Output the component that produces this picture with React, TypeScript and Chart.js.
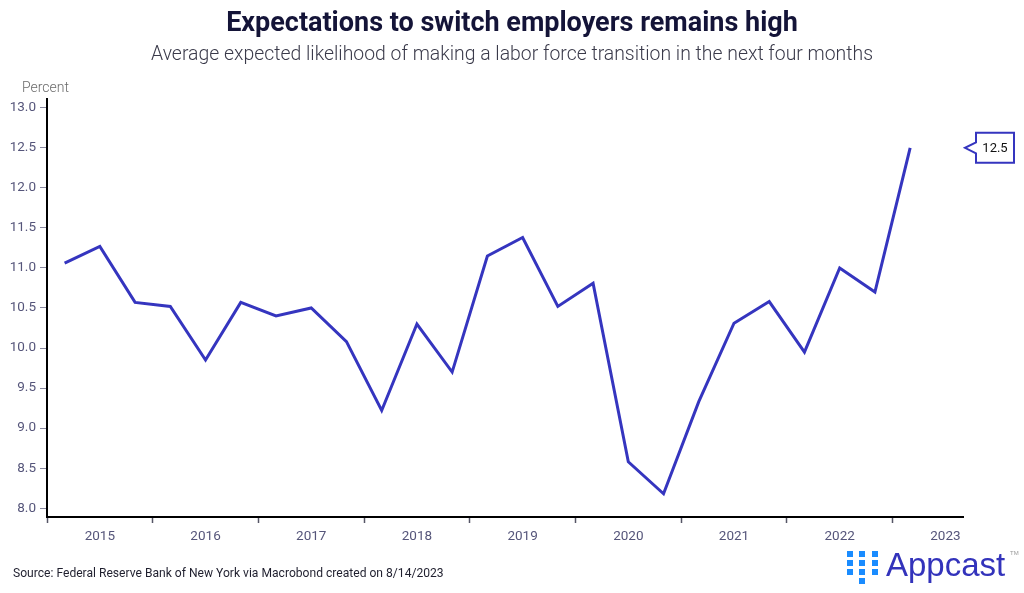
import React, { useEffect, useRef } from "react";
import { Chart, registerables } from "chart.js";

Chart.register(...registerables);

// ---- Data ----
const years = [2015, 2016, 2017, 2018, 2019, 2020, 2021, 2022, 2023];
const months = ["Mar", "Jul", "Nov"];
const periods: string[] = [];
years.forEach((yr) => months.forEach((m) => periods.push(`${m} ${yr}`)));
const values = [
  11.06, 11.27, 10.57, 10.52, 9.85, 10.57, 10.4, 10.5, 10.08, 9.22, 10.3, 9.7,
  11.15, 11.38, 10.52, 10.81, 8.58, 8.18, 9.33, 10.31, 10.58, 9.95, 11.0, 10.7,
  12.5,
];
const yTicks = [8.0, 8.5, 9.0, 9.5, 10.0, 10.5, 11.0, 11.5, 12.0, 12.5, 13.0];

const LINE_COLOR = "#3535bf";
const FONT = "Roboto, 'Open Sans', sans-serif";

const calloutPlugin = {
  id: "callout",
  afterDatasetsDraw(chart: any) {
    const { ctx, chartArea, scales } = chart;
    const last = values[values.length - 1];
    const y = scales.y.getPixelForValue(last);
    const tipX = chartArea.right + 2;
    const left = tipX + 11;
    const right = left + 38;
    const top = y - 15;
    const bottom = y + 15;
    ctx.save();
    ctx.beginPath();
    ctx.moveTo(left, top);
    ctx.lineTo(right, top);
    ctx.lineTo(right, bottom);
    ctx.lineTo(left, bottom);
    ctx.lineTo(left, y + 5.5);
    ctx.lineTo(tipX, y);
    ctx.lineTo(left, y - 5.5);
    ctx.closePath();
    ctx.fillStyle = "#ffffff";
    ctx.fill();
    ctx.lineWidth = 2;
    ctx.strokeStyle = LINE_COLOR;
    ctx.stroke();
    ctx.fillStyle = "#111111";
    ctx.font = `13px ${FONT}`;
    ctx.textAlign = "center";
    ctx.textBaseline = "middle";
    ctx.fillText(last.toFixed(1), (left + right) / 2, y + 0.5);
    ctx.restore();
  },
};

function ChartCanvas() {
  const ref = useRef<HTMLCanvasElement | null>(null);
  useEffect(() => {
    if (!ref.current) return;
    const boundaries = years.map((_, i) => i * 3 - 0.5);
    const centers = years.map((_, i) => i * 3 + 1);
    const chart = new Chart(ref.current, {
      type: "line",
      data: {
        datasets: [
          {
            label: "Likelihood",
            data: periods.map((p, i) => ({ x: i, y: values[i] })),
            borderColor: LINE_COLOR,
            borderWidth: 3,
            pointRadius: 0,
            tension: 0,
            fill: false,
          },
        ],
      },
      options: {
        animation: false,
        responsive: false,
        maintainAspectRatio: false,
        layout: { padding: { top: 99, right: 61, bottom: 0, left: 0 } },
        plugins: {
          legend: { display: false },
          tooltip: { enabled: false },
          title: { display: false },
        },
        scales: {
          x: {
            type: "linear",
            min: -0.5,
            max: 25.5,
            afterBuildTicks: (s: any) => {
              s.ticks = [...boundaries, ...centers]
                .sort((a, b) => a - b)
                .map((v) => ({ value: v }));
            },
            afterFit: (s: any) => {
              s.height = 76;
            },
            ticks: {
              autoSkip: false,
              maxRotation: 0,
              minRotation: 0,
              padding: 6,
              color: "#55557a",
              font: { family: FONT, size: 13.5 },
              callback: (v: any) => {
                const idx = centers.indexOf(Number(v));
                return idx >= 0 ? String(years[idx]) : "";
              },
            },
            grid: {
              drawOnChartArea: false,
              drawTicks: true,
              tickLength: 6,
              tickWidth: 1.5,
              tickColor: (ctx: any) =>
                ctx.tick && boundaries.includes(ctx.tick.value)
                  ? "#555566"
                  : "rgba(0,0,0,0)",
            },
            border: { display: true, color: "#000000", width: 2 },
          },
          y: {
            type: "linear",
            min: 7.89,
            max: 13.11,
            afterBuildTicks: (s: any) => {
              s.ticks = yTicks.map((v) => ({ value: v }));
            },
            afterFit: (s: any) => {
              s.width = 47;
            },
            ticks: {
              padding: 4,
              color: "#55557a",
              font: { family: FONT, size: 13.5 },
              callback: (v: any) => Number(v).toFixed(1),
            },
            grid: {
              drawOnChartArea: false,
              drawTicks: true,
              tickLength: 7,
              tickWidth: 1,
              tickColor: "#8888a0",
            },
            border: { display: true, color: "#000000", width: 2 },
          },
        },
      },
      plugins: [calloutPlugin],
    });
    return () => chart.destroy();
  }, []);
  return (
    <canvas
      ref={ref}
      width={1024}
      height={593}
      style={{ position: "absolute", left: 0, top: 0, width: 1024, height: 593 }}
    />
  );
}

const dotCols = [
  { left: 846.5, tops: [550.5, 559.5, 568.5] },
  { left: 859, tops: [550.5, 559.5, 568.5, 577.5] },
  { left: 871.5, tops: [550.5, 559.5, 568.5] },
];

export default function App() {
  useEffect(() => {
    document.body.style.margin = "0";
  }, []);
  return (
    <div
      style={{
        position: "relative",
        width: 1024,
        height: 593,
        overflow: "hidden",
        background: "#ffffff",
        fontFamily: FONT,
      }}
    >
      <ChartCanvas />
      <div
        style={{
          position: "absolute",
          top: 5,
          left: 0,
          width: 1024,
          textAlign: "center",
          fontWeight: 700,
          fontSize: 27,
          color: "#141438",
          lineHeight: "34px",
        }}
      >
        Expectations to switch employers remains high
      </div>
      <div
        style={{
          position: "absolute",
          top: 42,
          left: 0,
          width: 1024,
          textAlign: "center",
          fontWeight: 300,
          fontSize: 19.4,
          color: "#3a3a4a",
          lineHeight: "24px",
        }}
      >
        Average expected likelihood of making a labor force transition in the
        next four months
      </div>
      <div
        style={{
          position: "absolute",
          top: 78,
          left: 22,
          fontSize: 14,
          fontWeight: 300,
          color: "#6b6b6b",
          lineHeight: "18px",
        }}
      >
        Percent
      </div>
      <div
        style={{
          position: "absolute",
          top: 565,
          left: 13,
          fontSize: 12.1,
          color: "#1f1f2e",
          lineHeight: "16px",
        }}
      >
        Source: Federal Reserve Bank of New York via Macrobond created on
        8/14/2023
      </div>
      {dotCols.map((c, ci) =>
        c.tops.map((t, ti) => (
          <div
            key={`${ci}-${ti}`}
            style={{
              position: "absolute",
              left: c.left,
              top: t,
              width: 6,
              height: 6,
              background: "#1a8cff",
            }}
          />
        ))
      )}
      <div
        style={{
          position: "absolute",
          left: 886,
          top: 548,
          fontFamily: "'Liberation Sans', Arial, sans-serif",
          fontSize: 33,
          lineHeight: "33px",
          color: "#3333bb",
        }}
      >
        Appcast
      </div>
      <div
        style={{
          position: "absolute",
          left: 1010,
          top: 550,
          fontFamily: "'Liberation Sans', Arial, sans-serif",
          fontSize: 6,
          lineHeight: "6px",
          color: "#999",
        }}
      >
        TM
      </div>
    </div>
  );
}
